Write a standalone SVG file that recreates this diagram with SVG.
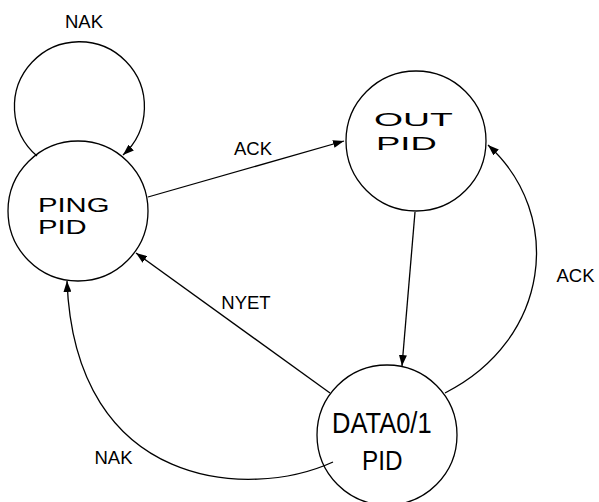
<svg xmlns="http://www.w3.org/2000/svg" width="599" height="502" viewBox="0 0 599 502">
<style>
.node{fill:#fff;stroke:#000;stroke-width:1.3}
.edge{fill:none;stroke:#000;stroke-width:1.3;marker-end:url(#arr)}
.lbl{font-family:"Liberation Sans",Arial,sans-serif;font-size:18.5px;fill:#000;text-anchor:middle}
.nt{font-family:"Liberation Sans",Arial,sans-serif;fill:#000}
</style>
<defs>
<marker id="arr" markerUnits="userSpaceOnUse" markerWidth="12" markerHeight="8" refX="11" refY="4" orient="auto">
<path d="M0,0 L11,4 L0,8 z" fill="#000"/>
</marker>
</defs>
<rect width="599" height="502" fill="#fff"/>
<g id="nodes">
<g id="ping"><circle class="node" cx="78" cy="211" r="70"/>
<text class="nt" font-size="19.5" transform="translate(38,212) scale(1.5,1)">PING</text>
<text class="nt" font-size="19.5" transform="translate(38,234) scale(1.5,1)">PID</text></g>
<g id="out"><circle class="node" cx="416" cy="141" r="70"/>
<text class="nt" font-size="18.7" transform="translate(374,126) scale(2,1)">OUT</text>
<text class="nt" font-size="18.7" transform="translate(376,150) scale(1.95,1)">PID</text></g>
<g id="data"><circle class="node" cx="387" cy="435" r="70"/>
<text class="nt" font-size="30" transform="translate(332,433) scale(0.85,1)">DATA0/1</text>
<text class="nt" font-size="27" transform="translate(362,470) scale(0.9,1)">PID</text></g>
</g>
<g id="connectors">
<path class="edge" d="M37,156 A65,65 0 1 1 123,155"/>
<path class="edge" d="M148,197 L344,141"/>
<path class="edge" d="M415,212 L402,366"/>
<path class="edge" d="M445,393 C550,340 565,215 488,145"/>
<path class="edge" d="M330,393 L136,253"/>
<path class="edge" d="M333,462 C250,500 75,490 67,281"/>
</g>
<g id="labels">
<text class="lbl" x="84" y="28">NAK</text>
<text class="lbl" x="253" y="155">ACK</text>
<text class="lbl" x="246" y="309">NYET</text>
<text class="lbl" x="113.5" y="464">NAK</text>
<text class="lbl" x="575.5" y="282">ACK</text>
</g>
</svg>
